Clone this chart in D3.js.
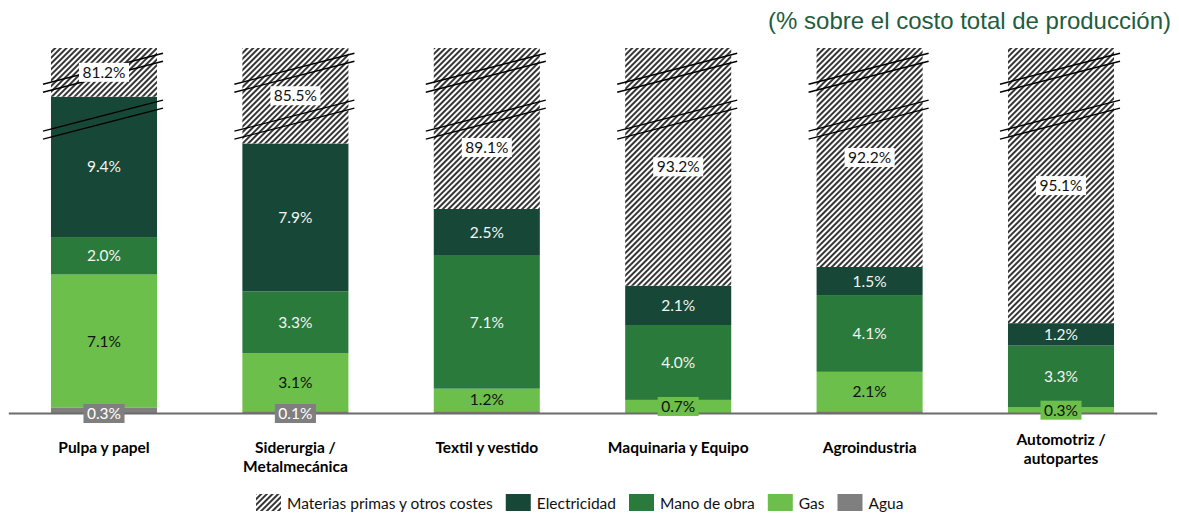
<!DOCTYPE html>
<html><head><meta charset="utf-8">
<script src="https://cdn.jsdelivr.net/npm/d3@7"></script>
<style>body{margin:0;background:#fff}svg{display:block}</style>
</head><body>
<svg id="c" width="1179" height="514"></svg>
<script>
// ---- data ----
const categories = ["Pulpa y papel", "Siderurgia / Metalmecánica", "Textil y vestido", "Maquinaria y Equipo", "Agroindustria", "Automotriz / autopartes"];
const categoryLines = [["Pulpa y papel"], ["Siderurgia /", "Metalmecánica"], ["Textil y vestido"], ["Maquinaria y Equipo"], ["Agroindustria"], ["Automotriz /", "autopartes"]];
const agua = [0.3, 0.1, 0.1, 0.0, 0.1, 0.0];
const aguaLabeled = [true, true, false, false, false, false];
const gas = [7.1, 3.1, 1.2, 0.7, 2.1, 0.3];
const manoObra = [2.0, 3.3, 7.1, 4.0, 4.1, 3.3];
const electricidad = [9.4, 7.9, 2.5, 2.1, 1.5, 1.2];
const electricidadCorte = [1.9, 0, 0, 0, 0, 0]; // part hidden by the axis break
const materiasPrimas = [81.2, 85.5, 89.1, 93.2, 92.2, 95.1];
const seriesNames = ["Materias primas y otros costes", "Electricidad", "Mano de obra", "Gas", "Agua"];
const title = "(% sobre el costo total de producción)";

// ---- styles ----
const colors = {agua: "#7f7f7f", gas: "#6cbf4a", mano: "#2a7a3b", elec: "#174736"};
const font = "Lato, 'Open Sans', sans-serif";

const svg = d3.select("#c");
const defs = svg.append("defs");
const pat = defs.append("pattern").attr("id", "hatch").attr("patternUnits", "userSpaceOnUse")
  .attr("width", 4).attr("height", 4).attr("patternTransform", "rotate(45)");
pat.append("rect").attr("width", 4).attr("height", 4).attr("fill", "#fff");
pat.append("rect").attr("x", 0).attr("width", 2).attr("height", 4).attr("fill", "#353535");

const x = d3.scaleBand().domain(categories).range([8.3, 1156.7]).paddingInner(0.446).paddingOuter(0.223);
const yMax = 19.5;
const y = d3.scaleLinear().domain([0, yMax]).range([413, 48]);

const table = categories.map((c, i) => ({
  cat: c, i,
  agua: agua[i], gas: gas[i], mano: manoObra[i],
  elec: electricidad[i] - electricidadCorte[i],
  raw: materiasPrimas[i]
}));
const keys = ["agua", "gas", "mano", "elec", "raw"];
const stacked = d3.stack().keys(keys)(table);

const g = svg.append("g");
stacked.forEach(layer => {
  const k = layer.key;
  g.selectAll(null).data(layer).join("rect")
    .attr("x", d => x(d.data.cat))
    .attr("width", x.bandwidth())
    .attr("y", d => y(Math.min(d[1], yMax)))
    .attr("height", d => Math.max(0, y(d[0]) - y(Math.min(d[1], yMax))))
    .attr("fill", k === "raw" ? "url(#hatch)" : colors[k]);
});

// axis baseline
const axis = svg.append("g").attr("transform", `translate(0,${y(0)})`)
  .call(d3.axisBottom(x).tickSize(0).tickFormat(""));
axis.select(".domain").attr("stroke", "#6b6b6b").attr("stroke-width", 2);
const catNudge = {"Automotriz / autopartes": -8};
axis.selectAll(".tick").each(function(d) {
  const i = categories.indexOf(d);
  const t = d3.select(this).append("text").attr("fill", "#000").attr("font-family", font)
    .attr("font-weight", "bold").attr("font-size", 15.5).attr("text-anchor", "middle");
  categoryLines[i].forEach((ln, j) => {
    t.append("tspan").attr("x", 0).attr("y", 40 + j * 19 + (catNudge[d] || 0)).text(ln);
  });
});

// break marks
const breakCenters = [18.18, 15.67];
table.forEach(d => {
  const x0 = x(d.cat) - 8, x1 = x(d.cat) + x.bandwidth() + 6;
  breakCenters.forEach(v => {
    [-4, 4].forEach(off => {
      const cy = y(v) + off;
      svg.append("line").attr("x1", x0).attr("x2", x1)
        .attr("y1", cy + 15.5).attr("y2", cy - 15.5)
        .attr("stroke", "#000").attr("stroke-width", 1.4);
    });
  });
});

// labels
const lab = svg.append("g");
function addLabel(cx, cy, txt, color, boxFill) {
  const gg = lab.append("g");
  const t = gg.append("text").attr("x", cx).attr("y", cy).attr("dy", "0.36em")
    .attr("text-anchor", "middle").attr("font-family", font).attr("font-size", 15.5)
    .attr("fill", color).text(txt);
  if (boxFill) {
    const b = t.node().getBBox();
    gg.insert("rect", "text").attr("x", b.x - 3.5).attr("y", cy - 9.5)
      .attr("width", b.width + 7).attr("height", 19).attr("fill", boxFill);
  }
}
const fmt = v => v.toFixed(1) + "%";
const rawNudge = {"Textil y vestido": 19};
stacked.forEach(layer => {
  const k = layer.key;
  layer.forEach(d => {
    const i = d.data.i, cx = x(d.data.cat) + x.bandwidth() / 2;
    const top = Math.min(d[1], yMax);
    const mid = (y(d[0]) + y(top)) / 2;
    if (k === "agua") {
      if (aguaLabeled[i]) addLabel(cx, y(0) + 0.5, fmt(agua[i]), "#fff", colors.agua);
    } else if (k === "gas") {
      if (gas[i] < 1) addLabel(cx, mid, fmt(gas[i]), "#111", colors.gas);
      else addLabel(cx, mid, fmt(gas[i]), "#111", null);
    } else if (k === "mano") {
      addLabel(cx, mid, fmt(manoObra[i]), "#f4f4f4", null);
    } else if (k === "elec") {
      addLabel(cx, mid, fmt(electricidad[i]), "#f4f4f4", null);
    } else {
      addLabel(cx, mid + (rawNudge[d.data.cat] || 0), fmt(materiasPrimas[i]), "#111", "#fff");
    }
  });
});

// title
svg.append("text").attr("x", 1171).attr("y", 29).attr("text-anchor", "end")
  .attr("font-family", "'Liberation Sans', Arial, sans-serif").attr("font-size", 24)
  .attr("fill", "#1f5c40").text(title);

// legend
const legFills = ["url(#hatch)", colors.elec, colors.mano, colors.gas, colors.agua];
const leg = svg.append("g");
let lx = 0;
seriesNames.forEach((n, i) => {
  leg.append("rect").attr("x", lx).attr("y", 494).attr("width", 25).attr("height", 17).attr("fill", legFills[i]);
  const t = leg.append("text").attr("x", lx + 31).attr("y", 503).attr("dy", "0.36em")
    .attr("font-family", font).attr("font-size", 15.5).attr("fill", "#111").text(n);
  lx += 31 + t.node().getComputedTextLength() + 13;
});
const legW = lx - 13;
leg.attr("transform", `translate(${256},0)`);
</script>
</body></html>
